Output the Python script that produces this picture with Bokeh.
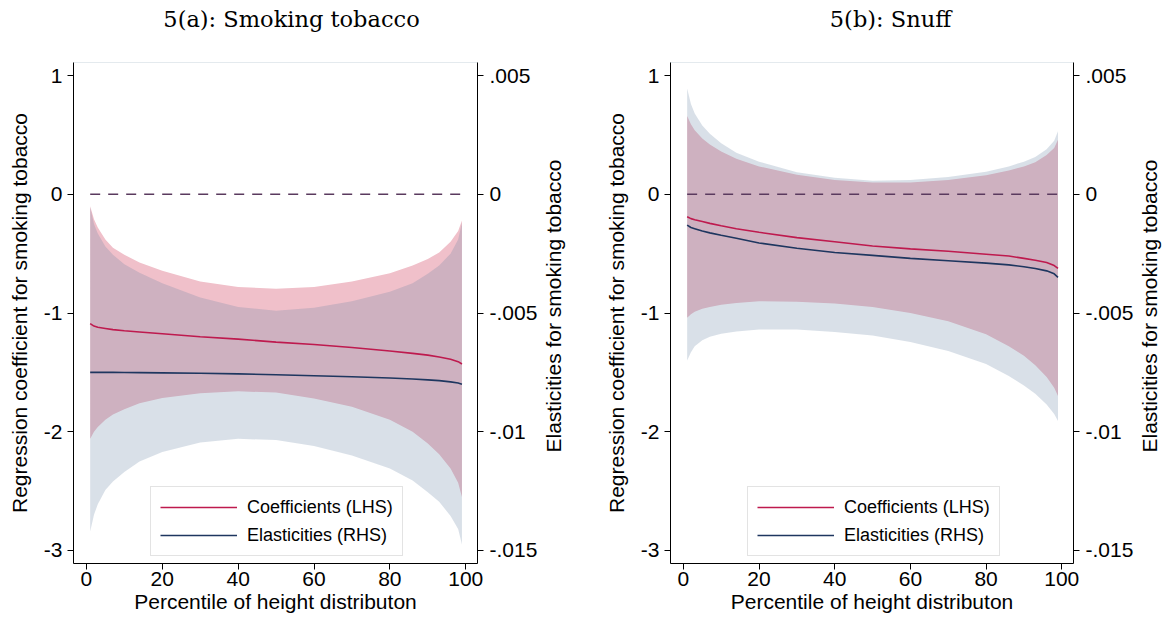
from bokeh.plotting import figure
from bokeh.models import (Range1d, LinearAxis, FixedTicker, Legend, LegendItem,
                          CustomJSTickFormatter)
from bokeh.layouts import row, column
from bokeh.embed import file_html
from bokeh.resources import INLINE

# ---------------- data ----------------
PCTL = [1, 2, 3, 5, 7, 10, 14, 20, 30, 40, 50, 60, 70, 80, 86, 90, 93, 96, 98, 99]

# 5(a) Smoking tobacco: regression coefficients (LHS) and 95% band
SMOKE_COEF = [-1.09, -1.11, -1.12, -1.13, -1.14, -1.15, -1.16, -1.175, -1.20, -1.22,
              -1.245, -1.265, -1.29, -1.32, -1.34, -1.355, -1.37, -1.39, -1.41, -1.43]
SMOKE_COEF_LO = [-2.06, -2.00, -1.96, -1.90, -1.855, -1.81, -1.76, -1.715, -1.675, -1.66,
                 -1.67, -1.72, -1.79, -1.90, -2.00, -2.10, -2.19, -2.31, -2.43, -2.55]
SMOKE_COEF_HI = [-0.10, -0.21, -0.28, -0.38, -0.45, -0.51, -0.575, -0.645, -0.735, -0.78,
                 -0.795, -0.78, -0.735, -0.665, -0.60, -0.545, -0.49, -0.40, -0.31, -0.22]
# elasticities (RHS) and 95% band
SMOKE_EL = [-0.00750, -0.00750, -0.00750, -0.00750, -0.00750, -0.007505, -0.00751, -0.00752,
            -0.00754, -0.007565, -0.00760, -0.00764, -0.007685, -0.00774, -0.00778, -0.007815,
            -0.00785, -0.00790, -0.00795, -0.00800]
SMOKE_EL_LO = [-0.01420, -0.01350, -0.01305, -0.01245, -0.01210, -0.01170, -0.01125, -0.01085,
               -0.01045, -0.01030, -0.01035, -0.01060, -0.01100, -0.01155, -0.01205, -0.01255,
               -0.01295, -0.01355, -0.01410, -0.01475]
SMOKE_EL_HI = [-0.00055, -0.00125, -0.00165, -0.00220, -0.00255, -0.00295, -0.00330, -0.00375,
               -0.00435, -0.00475, -0.00490, -0.004775, -0.00450, -0.00410, -0.00375, -0.00335,
               -0.00300, -0.00250, -0.00190, -0.00120]

# 5(b) Snuff
SNUFF_COEF = [-0.19, -0.205, -0.215, -0.23, -0.245, -0.265, -0.29, -0.32, -0.365, -0.40,
              -0.435, -0.46, -0.48, -0.505, -0.52, -0.54, -0.555, -0.575, -0.60, -0.625]
SNUFF_COEF_LO = [-1.04, -1.01, -0.99, -0.965, -0.95, -0.93, -0.915, -0.90, -0.905, -0.92,
                 -0.95, -1.00, -1.07, -1.18, -1.28, -1.36, -1.44, -1.54, -1.63, -1.70]
SNUFF_COEF_HI = [0.66, 0.59, 0.54, 0.47, 0.42, 0.36, 0.30, 0.235, 0.165, 0.12,
                 0.10, 0.10, 0.12, 0.16, 0.20, 0.235, 0.27, 0.33, 0.39, 0.46]
SNUFF_EL = [-0.00130, -0.00140, -0.00145, -0.00155, -0.001625, -0.001725, -0.00185, -0.00205,
            -0.002275, -0.00245, -0.002575, -0.00270, -0.00280, -0.00290, -0.002975, -0.00305,
            -0.003125, -0.003225, -0.00335, -0.00350]
SNUFF_EL_LO = [-0.00700, -0.00665, -0.00640, -0.00615, -0.00600, -0.005875, -0.005775, -0.00570,
               -0.00570, -0.00580, -0.00595, -0.006225, -0.00660, -0.00715, -0.00765, -0.00805,
               -0.00840, -0.00885, -0.00925, -0.00955]
SNUFF_EL_HI = [0.00445, 0.00380, 0.00340, 0.00290, 0.00255, 0.00215, 0.00175, 0.001375,
               0.000925, 0.00070, 0.000575, 0.00060, 0.000725, 0.00095, 0.001175, 0.001375,
               0.001575, 0.00190, 0.00225, 0.00265]

ZERO_X = [1, 99]
ZERO_Y = [0, 0]

X_TICKS = [0, 20, 40, 60, 80, 100]
COEF_TICKS = [1, 0, -1, -2, -3]
EL_TICKS = [0.005, 0, -0.005, -0.01, -0.015]

TITLES = ["5(a): Smoking tobacco", "5(b): Snuff"]
Y_LABEL_L = "Regression coefficient for smoking tobacco"
Y_LABEL_R = "Elasticities for smoking tobacco"
X_LABEL = "Percentile of height distributon"
LEGEND_LABELS = ["Coefficients (LHS)", "Elasticities (RHS)"]

# ---------------- styling ----------------
SANS = "Liberation Sans"
SERIF = "DejaVu Serif"
C_COEF_BAND = (240, 192, 202)
C_EL_BAND = (104, 132, 164)
C_COEF = "#BE1A4E"
C_EL = "#1E365F"
C_ZERO = "#5A3A5E"
TITLE_H = 46


def blank(width, height, **kw):
    """An empty strip that only carries a title (kept as SVG text)."""
    p = figure(width=width, height=height, output_backend="svg", toolbar_location=None,
               x_axis_location=None, y_axis_location=None, **kw)
    p.outline_line_color = None
    p.background_fill_color = "white"
    p.border_fill_color = "white"
    p.grid.visible = False
    return p


def title_strip(text, width, mb_left, mb_right):
    p = blank(width, TITLE_H, min_border_left=mb_left, min_border_right=mb_right,
              min_border_top=0, min_border_bottom=0)
    p.title.text = text
    p.title.text_font = SERIF
    p.title.text_font_size = "22.5px"
    p.title.text_font_style = "normal"
    p.title.text_color = "black"
    p.title.align = "center"
    p.title.vertical_align = "top"
    p.title.standoff = 10
    return p


def side_label_strip(text, width):
    p = blank(width, 620 - TITLE_H, title_location="left",
              min_border_left=0, min_border_right=0,
              min_border_top=62 - TITLE_H, min_border_bottom=57)
    p.title.text = text
    p.title.text_font = SANS
    p.title.text_font_size = "21px"
    p.title.text_font_style = "normal"
    p.title.text_color = "black"
    p.title.align = "left"
    p.title.offset = 111
    p.title.vertical_align = "middle"
    p.title.standoff = 0
    return p


def style_axis(ax):
    ax.axis_line_color = "black"
    ax.axis_line_width = 1
    ax.major_tick_line_color = "black"
    ax.major_tick_out = 6
    ax.major_tick_in = 0
    ax.minor_tick_line_color = None
    ax.major_label_text_font = SANS
    ax.major_label_text_font_size = "21px"
    ax.major_label_text_color = "black"
    ax.axis_label_text_font = SANS
    ax.axis_label_text_font_size = "21px"
    ax.axis_label_text_font_style = "normal"
    ax.axis_label_text_color = "black"


def make_panel(coef, coef_lo, coef_hi, el, el_lo, el_hi, width, mb_right):
    p = figure(width=width, height=620 - TITLE_H, output_backend="svg", toolbar_location=None,
               x_range=Range1d(-3.4, 103.1), y_range=Range1d(-3.11, 1.11),
               min_border_left=73, min_border_right=mb_right,
               min_border_top=62 - TITLE_H, min_border_bottom=57)
    p.extra_y_ranges = {"el": Range1d(-0.01555, 0.00555)}
    p.xgrid.visible = False
    p.ygrid.visible = False
    p.outline_line_color = "#E4EAEE"
    p.background_fill_color = "white"
    p.border_fill_color = "white"

    p.varea(x=PCTL, y1=coef_lo, y2=coef_hi, fill_color=C_COEF_BAND, fill_alpha=1.0)
    p.varea(x=PCTL, y1=el_lo, y2=el_hi, fill_color=C_EL_BAND, fill_alpha=0.25,
            y_range_name="el")
    p.line(ZERO_X, ZERO_Y, line_color=C_ZERO, line_width=1.5, line_dash="10 8")
    r_coef = p.line(PCTL, coef, line_color=C_COEF, line_width=1.6)
    r_el = p.line(PCTL, el, line_color=C_EL, line_width=1.6, y_range_name="el")

    xa = p.xaxis[0]
    xa.ticker = FixedTicker(ticks=X_TICKS)
    xa.axis_label = X_LABEL
    xa.major_label_standoff = 2
    xa.axis_label_standoff = 1
    style_axis(xa)

    ya = p.yaxis[0]
    ya.ticker = FixedTicker(ticks=COEF_TICKS)
    ya.formatter = CustomJSTickFormatter(code="return tick.toFixed(0);")
    ya.axis_label = Y_LABEL_L
    ya.major_label_standoff = 5
    ya.axis_label_standoff = 10
    style_axis(ya)

    ra = LinearAxis(y_range_name="el")
    ra.ticker = FixedTicker(ticks=EL_TICKS)
    ra.formatter = CustomJSTickFormatter(code="""
        if (Math.abs(tick) < 1e-12) { return '0'; }
        var s = (Math.round(tick * 1000) / 1000).toString();
        return s.replace('0.', '.');
    """)
    ra.major_label_standoff = 6
    style_axis(ra)
    p.add_layout(ra, "right")

    legend = Legend(items=[LegendItem(label=LEGEND_LABELS[0], renderers=[r_coef]),
                           LegendItem(label=LEGEND_LABELS[1], renderers=[r_el])],
                    location=(77, 7))
    legend.border_line_color = "#C8C8C8"
    legend.border_line_width = 1
    legend.background_fill_color = "white"
    legend.background_fill_alpha = 1.0
    legend.label_text_font = SANS
    legend.label_text_font_size = "18px"
    legend.label_text_color = "black"
    legend.glyph_width = 77
    legend.glyph_height = 22
    legend.label_height = 22
    legend.label_standoff = 10
    legend.padding = 9
    legend.spacing = 6
    legend.margin = 0
    p.add_layout(legend)
    return p


t1 = title_strip(TITLES[0], 597, 0, 15)
t2 = title_strip(TITLES[1], 566, 20, 0)

p1 = make_panel(SMOKE_COEF, SMOKE_COEF_LO, SMOKE_COEF_HI,
                SMOKE_EL, SMOKE_EL_LO, SMOKE_EL_HI, 540, 63)
s1 = side_label_strip(Y_LABEL_R, 57)
p2 = make_panel(SNUFF_COEF, SNUFF_COEF_LO, SNUFF_COEF_HI,
                SNUFF_EL, SNUFF_EL_LO, SNUFF_EL_HI, 539, 60)
s2 = side_label_strip(Y_LABEL_R, 27)

layout = column(row(t1, t2), row(p1, s1, p2, s2))
open("out.html", "w").write(file_html(layout, INLINE))
